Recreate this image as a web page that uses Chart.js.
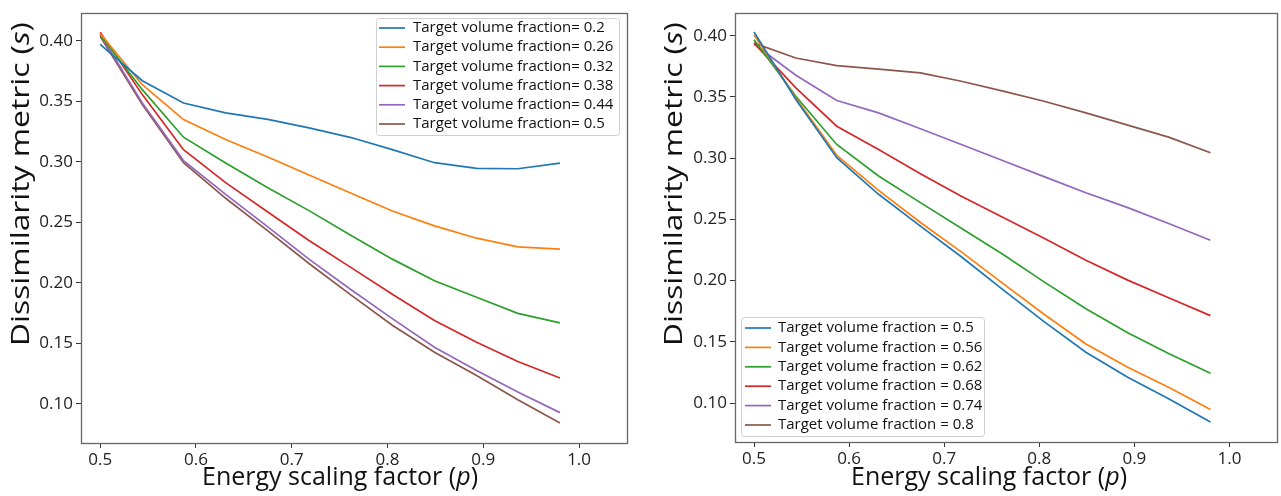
<!DOCTYPE html>
<html><head><meta charset="utf-8">
<script src="https://cdn.jsdelivr.net/npm/chart.js@4.4.1/dist/chart.umd.min.js"></script>
<style>
html,body{margin:0;padding:0;background:#fff;}
#wrap{position:relative;width:1281px;height:496px;overflow:hidden;}
.box{position:absolute;top:0;height:496px;}
#b1{left:0;width:640px;}
#b2{left:640px;width:641px;}
</style></head><body>
<div id="wrap"><div class="box" id="b1"><canvas id="c1" width="640" height="496"></canvas></div><div class="box" id="b2"><canvas id="c2" width="641" height="496"></canvas></div></div>
<script>
// ---- data ----
const pValues = [0.5, 0.544, 0.587, 0.631, 0.675, 0.718, 0.762, 0.805, 0.849, 0.893, 0.936, 0.98];
const xTickValues = [0.5, 0.6, 0.7, 0.8, 0.9, 1.0];
const yTickValues = [0.10, 0.15, 0.20, 0.25, 0.30, 0.35, 0.40];
const leftFractions = ['0.2', '0.26', '0.32', '0.38', '0.44', '0.5'];
const rightFractions = ['0.5', '0.56', '0.62', '0.68', '0.74', '0.8'];

const leftVf020 = [0.397, 0.367, 0.3486, 0.3404, 0.335, 0.328, 0.320, 0.310, 0.2992, 0.2945, 0.2942, 0.2989];
const leftVf026 = [0.406, 0.3637, 0.3349, 0.3184, 0.304, 0.289, 0.274, 0.2593, 0.247, 0.2368, 0.2297, 0.2277];
const leftVf032 = [0.405, 0.3596, 0.3203, 0.299, 0.2785, 0.2596, 0.239, 0.2195, 0.2016, 0.188, 0.1747, 0.1668];
const leftVf038 = [0.407, 0.3555, 0.310, 0.2827, 0.2585, 0.2349, 0.2125, 0.1905, 0.1687, 0.1508, 0.1349, 0.1212];
const leftVf044 = [0.4055, 0.3486, 0.301, 0.273, 0.2462, 0.2195, 0.1942, 0.1703, 0.1467, 0.1275, 0.1096, 0.0926];
const leftVf050 = [0.4036, 0.3473, 0.2992, 0.2698, 0.2429, 0.2159, 0.1898, 0.1648, 0.1426, 0.1233, 0.1033, 0.0841];

const rightVf050 = [0.403, 0.3479, 0.3004, 0.2705, 0.2445, 0.2195, 0.1925, 0.1665, 0.1415, 0.1211, 0.1035, 0.0845];
const rightVf056 = [0.4008, 0.3492, 0.3023, 0.2737, 0.2475, 0.2235, 0.1975, 0.1725, 0.1483, 0.1293, 0.113, 0.0948];
const rightVf062 = [0.3967, 0.3506, 0.3112, 0.2854, 0.2637, 0.2428, 0.2213, 0.199, 0.177, 0.1575, 0.1405, 0.1244];
const rightVf068 = [0.394, 0.3574, 0.3261, 0.3071, 0.2873, 0.2689, 0.2515, 0.2346, 0.2167, 0.2004, 0.186, 0.1714];
const rightVf074 = [0.3932, 0.3677, 0.3471, 0.337, 0.324, 0.3112, 0.2979, 0.2849, 0.2718, 0.2596, 0.2466, 0.233];
const rightVf080 = [0.394, 0.3818, 0.3756, 0.3728, 0.3696, 0.3628, 0.3547, 0.3465, 0.337, 0.327, 0.3172, 0.3044];

const leftSeries = [leftVf020, leftVf026, leftVf032, leftVf038, leftVf044, leftVf050];
const rightSeries = [rightVf050, rightVf056, rightVf062, rightVf068, rightVf074, rightVf080];
const colors = ['#1f77b4', '#ff7f0e', '#2ca02c', '#d62728', '#9467bd', '#8c564b'];

const FONT = '"Open Sans", "Noto Sans", sans-serif';

// ---- plugins ----
const framePlugin = {
  id: 'frame',
  afterDraw(chart) {
    const a = chart.chartArea, ctx = chart.ctx;
    ctx.save();
    ctx.strokeStyle = '#666';
    ctx.lineWidth = 1.3;
    ctx.strokeRect(Math.round(a.left) + 0.5, Math.round(a.top) + 0.5, Math.round(a.right - a.left), Math.round(a.bottom - a.top));
    ctx.restore();
  }
};

const insideLegend = {
  id: 'insideLegend',
  afterDraw(chart, args, o) {
    const ctx = chart.ctx;
    ctx.save();
    ctx.beginPath();
    if (ctx.roundRect) ctx.roundRect(o.x + 0.5, o.y + 0.5, o.w, o.h, 3); else ctx.rect(o.x + 0.5, o.y + 0.5, o.w, o.h);
    ctx.fillStyle = 'rgba(255,255,255,0.85)';
    ctx.fill();
    ctx.strokeStyle = '#d0d0d0';
    ctx.lineWidth = 1;
    ctx.stroke();
    chart.data.datasets.forEach((ds, i) => {
      const cy = o.y + o.firstRow + i * o.rowH;
      ctx.strokeStyle = ds.borderColor;
      ctx.lineWidth = 1.7;
      ctx.beginPath();
      ctx.moveTo(o.x + o.lineX0, cy);
      ctx.lineTo(o.x + o.lineX1, cy);
      ctx.stroke();
      ctx.fillStyle = '#111';
      ctx.font = o.fontSize + 'px ' + FONT;
      ctx.textBaseline = 'middle';
      ctx.textAlign = 'left';
      ctx.fillText(ds.label, o.x + o.textX, cy);
    });
    ctx.restore();
  }
};

const axisTitles = {
  id: 'axisTitles',
  afterDraw(chart, args, o) {
    const ctx = chart.ctx;
    const drawSegs = (segs, size) => {
      let total = 0;
      segs.forEach(s => { ctx.font = (s.italic ? 'italic ' : '') + size + 'px ' + FONT; s.w = ctx.measureText(s.t).width; total += s.w; });
      let x = -total / 2;
      segs.forEach(s => { ctx.font = (s.italic ? 'italic ' : '') + size + 'px ' + FONT; ctx.fillText(s.t, x, 0); x += s.w; });
    };
    ctx.save();
    ctx.fillStyle = '#111';
    ctx.textBaseline = 'middle';
    ctx.textAlign = 'left';
    // y title
    ctx.save();
    ctx.translate(o.yx, o.yy);
    ctx.rotate(-Math.PI / 2);
    ctx.scale(o.yStretch, 1);
    drawSegs([{t: 'Dissimilarity metric ('}, {t: 's', italic: true}, {t: ')'}], o.ySize);
    ctx.restore();
    // x title
    ctx.save();
    ctx.translate(o.xx, o.xy);
    drawSegs([{t: 'Energy scaling factor ('}, {t: 'p', italic: true}, {t: ')'}], o.xSize);
    ctx.restore();
    ctx.restore();
  }
};

function makeChart(canvasId, series, fractions, sep, geom) {
  const datasets = series.map((vals, i) => ({
    label: 'Target volume fraction' + sep + '= ' + fractions[i],
    data: pValues.map((p, j) => ({x: p, y: vals[j]})),
    borderColor: colors[i],
    backgroundColor: colors[i],
    borderWidth: 1.7,
    pointRadius: 0,
    tension: 0,
    fill: false
  }));
  return new Chart(document.getElementById(canvasId), {
    type: 'line',
    data: {datasets},
    options: {
      responsive: false,
      animation: false,
      devicePixelRatio: 1,
      layout: {padding: {left: 0, right: geom.padRight, top: 12, bottom: 0}},
      plugins: {
        legend: {display: false},
        tooltip: {enabled: false},
        insideLegend: geom.legend,
        axisTitles: geom.titles
      },
      scales: {
        x: {
          type: 'linear',
          min: 0.48, max: 1.05,
          afterBuildTicks: s => { s.ticks = xTickValues.map(v => ({value: v})); },
          afterFit: s => { s.height = geom.xHeight; },
          grid: {drawOnChartArea: false, drawTicks: true, tickLength: 5, color: '#333'},
          border: {display: false},
          ticks: {font: {family: FONT, size: 17}, color: '#222', padding: 2, maxRotation: 0, autoSkip: false,
                  callback: v => Number(v).toFixed(1)}
        },
        y: {
          type: 'linear',
          min: geom.yMin, max: geom.yMax,
          afterBuildTicks: s => { s.ticks = yTickValues.map(v => ({value: v})); },
          afterFit: s => { s.width = geom.yWidth; },
          grid: {drawOnChartArea: false, drawTicks: true, tickLength: 5, color: '#333'},
          border: {display: false},
          ticks: {font: {family: FONT, size: 17}, color: '#222', padding: 3, autoSkip: false,
                  callback: v => Number(v).toFixed(2)}
        }
      }
    },
    plugins: [framePlugin, insideLegend, axisTitles]
  });
}

makeChart('c1', leftSeries, leftFractions, '', {
  padRight: 13, xHeight: 53, yWidth: 81, yMin: 0.0675, yMax: 0.4228,
  legend: {x: 376, y: 18, w: 243, h: 117, firstRow: 10, rowH: 19.2, lineX0: 3, lineX1: 29, textX: 37, fontSize: 15},
  titles: {yx: 22, yy: 184, xx: 340, xy: 478, ySize: 26, yStretch: 1.22, xSize: 25}
});
makeChart('c2', rightSeries, rightFractions, ' ', {
  padRight: 4, xHeight: 54, yWidth: 95, yMin: 0.0682, yMax: 0.4184,
  legend: {x: 101, y: 317, w: 243, h: 119, firstRow: 11, rowH: 19.4, lineX0: 4, lineX1: 30, textX: 37, fontSize: 15},
  titles: {yx: 35, yy: 184, xx: 349, xy: 478, ySize: 26, yStretch: 1.22, xSize: 25}
});
</script>
</body></html>
